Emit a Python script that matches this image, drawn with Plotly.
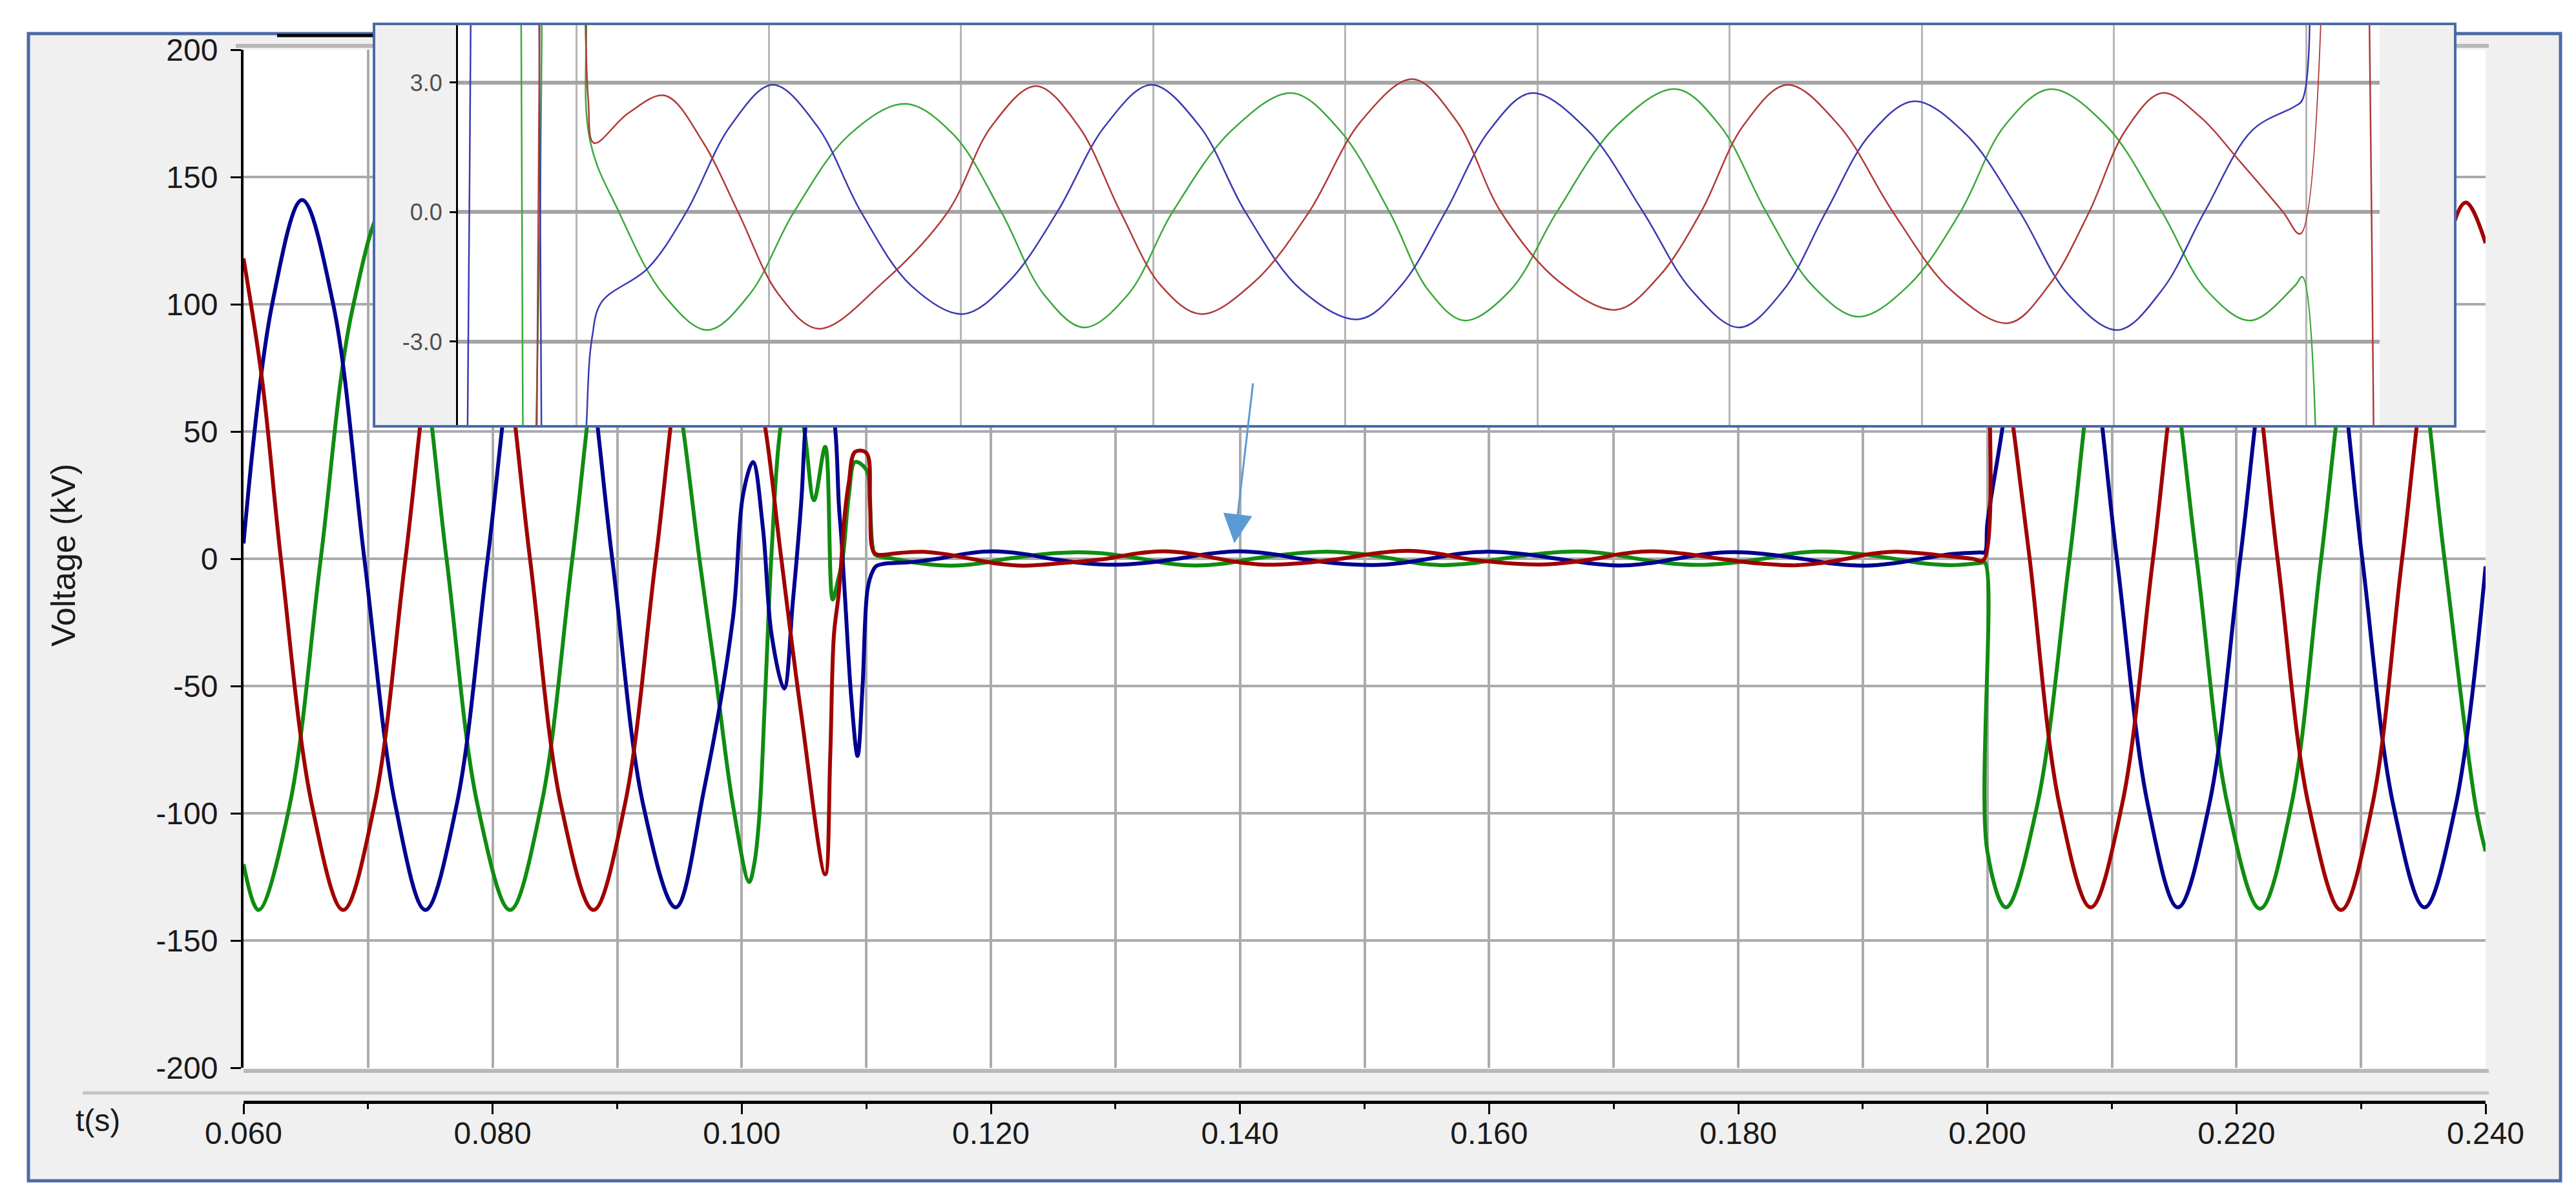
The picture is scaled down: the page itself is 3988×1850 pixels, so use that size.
"""
Three-phase line voltage during a fault, dead time and reclose,
with a zoomed inset of the residual voltage while the breaker is open.
"""

import plotly.graph_objects as go

W, H = 3988, 1850

# phase A (red): time in s, voltage in kV
t_red = [0.0600, 0.0615, 0.0630, 0.0655, 0.0680, 0.0705, 0.0730, 0.0755, 0.0780, 0.0805,
         0.0830, 0.0855, 0.0881, 0.0906, 0.0931, 0.0956, 0.0980, 0.1000, 0.1019, 0.1031,
         0.1048, 0.1067, 0.1071, 0.1074, 0.1078, 0.1083, 0.1086, 0.1091, 0.1100, 0.1103,
         0.1104, 0.1106, 0.1109, 0.1127, 0.1146, 0.1166, 0.1184, 0.1205, 0.1226, 0.1260,
         0.1293, 0.1316, 0.1339, 0.1361, 0.1383, 0.1404, 0.1425, 0.1453, 0.1481, 0.1508,
         0.1535, 0.1558, 0.1581, 0.1611, 0.1641, 0.1663, 0.1685, 0.1707, 0.1730, 0.1757,
         0.1785, 0.1815, 0.1845, 0.1866, 0.1887, 0.1906, 0.1925, 0.1945, 0.1965, 0.1988,
         0.1997, 0.2000, 0.2010, 0.2021, 0.2034, 0.2058, 0.2083, 0.2108, 0.2133, 0.2158,
         0.2183, 0.2208, 0.2233, 0.2258, 0.2284, 0.2309, 0.2333, 0.2358, 0.2384, 0.2400]
v_red = [118, 70, 0, -97, -138, -97, 0, 97, 138, 97,
         0, -97, -138, -97, 0, 97, 138, 100, 51, 3,
         -62, -124, -78, -30, -13, 19, 30, 42, 41.6, 23,
         6, 2.6, 1.6, 2.3, 2.7, 1.6, 0, -1.9, -2.7, -1.6,
         0, 2.0, 2.92, 2.0, 0, -1.7, -2.36, -1.6, 0, 2.1,
         3.08, 2.1, 0, -1.6, -2.26, -1.5, 0, 2.0, 2.95, 2.0,
         0, -1.8, -2.57, -1.7, 0, 1.9, 2.76, 2.2, 1.2, 0,
         -0.5, 121, 92, 51, 0, -97, -137, -97, 0, 97,
         138, 97, 0, -97, -138, -97, 0, 97, 140, 124]

# phase B (blue)
t_blue = [0.0600, 0.0623, 0.0647, 0.0672, 0.0697, 0.0722, 0.0746, 0.0771, 0.0796, 0.0821,
          0.0846, 0.0871, 0.0896, 0.0921, 0.0947, 0.0970, 0.0993, 0.1001, 0.1009, 0.1017,
          0.1024, 0.1034, 0.1041, 0.1048, 0.1051, 0.1057, 0.1063, 0.1069, 0.1075, 0.1078,
          0.1080, 0.1083, 0.1088, 0.1093, 0.1097, 0.1101, 0.1105, 0.1108, 0.1113, 0.1137,
          0.1157, 0.1180, 0.1202, 0.1225, 0.1248, 0.1274, 0.1301, 0.1325, 0.1350, 0.1375,
          0.1399, 0.1424, 0.1448, 0.1477, 0.1507, 0.1529, 0.1552, 0.1575, 0.1597, 0.1626,
          0.1655, 0.1680, 0.1705, 0.1728, 0.1750, 0.1773, 0.1796, 0.1823, 0.1851, 0.1876,
          0.1902, 0.1925, 0.1947, 0.1972, 0.1994, 0.1998, 0.2000, 0.2012, 0.2030, 0.2054,
          0.2079, 0.2104, 0.2129, 0.2153, 0.2178, 0.2203, 0.2228, 0.2252, 0.2277, 0.2301,
          0.2326, 0.2351, 0.2376, 0.2400]
v_blue = [6, 100, 141, 100, 0, -97, -138, -97, 0, 97,
          138, 97, 0, -97, -137, -90, -23, 25, 38, 12,
          -30, -51, -17, 24, 51, 78, 85, 70, 51, 21,
          8, -16, -55, -77.5, -50, -12, -5, -2.9, -2.08, -1.3,
          0, 2.0, 2.95, 2.0, 0, -1.7, -2.36, -1.6, 0, 2.0,
          2.95, 2.0, 0, -1.8, -2.48, -1.7, 0, 1.9, 2.76, 1.9,
          0, -1.8, -2.67, -1.8, 0, 1.8, 2.57, 1.8, 0, -1.9,
          -2.73, -1.8, 0, 1.9, 2.45, 2.6, 14, 51, 115, 138,
          97, 0, -97, -137, -97, 0, 97, 138, 97, 0,
          -97, -137, -97, -3]

# phase C (green)
t_green = [0.0600, 0.0612, 0.0637, 0.0662, 0.0687, 0.0713, 0.0738, 0.0763, 0.0788, 0.0814,
           0.0839, 0.0864, 0.0889, 0.0914, 0.0939, 0.0953, 0.0966, 0.0979, 0.0993, 0.1006,
           0.1010, 0.1014, 0.1019, 0.1024, 0.1031, 0.1040, 0.1050, 0.1058, 0.1067, 0.1073,
           0.1077, 0.1081, 0.1086, 0.1091, 0.1100, 0.1103, 0.1105, 0.1107, 0.1122, 0.1145,
           0.1168, 0.1190, 0.1213, 0.1242, 0.1271, 0.1296, 0.1321, 0.1343, 0.1364, 0.1387,
           0.1410, 0.1441, 0.1472, 0.1497, 0.1523, 0.1543, 0.1562, 0.1586, 0.1610, 0.1641,
           0.1672, 0.1695, 0.1719, 0.1743, 0.1767, 0.1793, 0.1820, 0.1843, 0.1867, 0.1896,
           0.1925, 0.1948, 0.1971, 0.1994, 0.1998, 0.2000, 0.2015, 0.2040, 0.2066, 0.2091,
           0.2117, 0.2142, 0.2168, 0.2193, 0.2219, 0.2244, 0.2268, 0.2293, 0.2317, 0.2342,
           0.2367, 0.2392, 0.2400]
v_green = [-120, -138, -97, 0, 97, 138, 97, 0, -97, -138,
           -97, 0, 97, 138, 97, 51, 0, -46, -97, -127,
           -120, -102, -51, 3, 51, 72, 51, 23, 44, -16,
           -9, 0, 25, 38, 35, 20, 5, 1.64, 0, -1.9,
           -2.73, -1.9, 0, 1.8, 2.51, 1.8, 0, -1.9, -2.67, -1.9,
           0, 1.9, 2.76, 1.9, 0, -1.8, -2.51, -1.8, 0, 2.0,
           2.85, 2.0, 0, -1.7, -2.42, -1.7, 0, 2.0, 2.85, 2.0,
           0, -1.8, -2.51, -1.71, -1.5, -115, -137, -97, 0, 97,
           138, 97, 0, -97, -137.5, -97, 0, 97, 138, 97,
           0, -97, -115]

x_ticks = [0.06, 0.08, 0.10, 0.12, 0.14, 0.16, 0.18, 0.20, 0.22, 0.24]
x_labels = ["0.060", "0.080", "0.100", "0.120", "0.140", "0.160", "0.180", "0.200", "0.220", "0.240"]
y_ticks = [-200, -150, -100, -50, 0, 50, 100, 150, 200]
y_labels = ["-200", "-150", "-100", "-50", "0", "50", "100", "150", "200"]
inset_ticks = [-3, 0, 3]
inset_labels = ["-3.0", "0.0", "3.0"]

FONT = "Arial, Liberation Sans, sans-serif"
FRAME = "#4a6aa8"
PANEL = "#f0f0f0"
GRID = "#ababab"


def px(x):
    return x / W


def py(y):
    return 1 - y / H


phases = [
    (t_green, v_green, "#108c10", "#3aa83a"),
    (t_blue, v_blue, "#000090", "#3a3ab0"),
    (t_red, v_red, "#a00000", "#b03a3a"),
]

fig = go.Figure()
for t, v, main_col, _ in phases:
    fig.add_trace(go.Scatter(x=t, y=v, mode="lines", line=dict(color=main_col, width=6, shape="spline"),
                             xaxis="x", yaxis="y", hoverinfo="skip"))

# empty trace so the inset frame subplot exists and sits above the main traces
fig.add_trace(go.Scatter(x=[], y=[], xaxis="x2", yaxis="y2"))

for t, v, _, inset_col in phases:
    fig.add_trace(go.Scatter(x=t, y=v, mode="lines", line=dict(color=inset_col, width=2.5, shape="spline"),
                             xaxis="x3", yaxis="y3", hoverinfo="skip"))

fig.update_layout(
    width=W, height=H, template="none", showlegend=False,
    margin=dict(l=0, r=0, t=0, b=0),
    paper_bgcolor="white", plot_bgcolor="white",
    font=dict(family=FONT, size=48, color="#1a1a1a"),
    xaxis=dict(
        domain=[px(369), px(3840)], range=[0.06, 0.24], anchor="free", position=py(1698),
        tickvals=x_ticks, ticktext=x_labels, ticks="outside", ticklen=16, tickwidth=3, tickcolor="black",
        showline=True, linecolor="black", linewidth=5, showgrid=True, gridcolor=GRID, gridwidth=4,
        minor=dict(dtick=0.01, tick0=0.06, ticks="outside", ticklen=8, tickwidth=3, tickcolor="black",
                   showgrid=True, gridcolor=GRID, gridwidth=4),
        zeroline=False, automargin=False, tickfont=dict(size=48), ticklabelstandoff=-12,
    ),
    yaxis=dict(
        domain=[py(1645), py(69)], range=[-200, 200], tickvals=y_ticks, ticktext=y_labels, anchor="x",
        ticks="outside", ticklen=16, tickwidth=3, tickcolor="black",
        showline=True, linecolor="black", linewidth=4, showgrid=True, gridcolor=GRID, gridwidth=4,
        zeroline=False, automargin=False, tickfont=dict(size=48), ticklabelstandoff=10,
    ),
    xaxis2=dict(domain=[px(569), px(3795)], range=[0, 1], visible=False, anchor="y2"),
    yaxis2=dict(domain=[py(654), py(27)], range=[0, 1], visible=False, anchor="x2"),
    xaxis3=dict(
        domain=[px(701), px(3676)], range=[0.10382, 0.20382], anchor="y3",
        tick0=0.11, dtick=0.01, showticklabels=False, ticks="",
        showgrid=True, gridcolor="#b5b5b5", gridwidth=3, zeroline=False, showline=False, automargin=False,
    ),
    yaxis3=dict(
        domain=[py(650), py(31)], range=[-4.93, 4.33], anchor="x3",
        tickvals=inset_ticks, ticktext=inset_labels, ticks="outside", ticklen=10, tickwidth=3, tickcolor="black",
        showline=True, linecolor="black", linewidth=3, showgrid=True, gridcolor="#a5a5a5", gridwidth=6,
        zeroline=False, automargin=False, tickfont=dict(size=36, color="#505050"), ticklabelstandoff=4,
    ),
    shapes=[
        # outer window frame and the white main plotting area
        dict(type="rect", xref="paper", yref="paper", x0=px(36), x1=px(3956), y0=py(1820), y1=py(44),
             fillcolor=PANEL, line=dict(color=FRAME, width=5), layer="below"),
        dict(type="rect", xref="paper", yref="paper", x0=px(369), x1=px(3840), y0=py(1645), y1=py(69),
             fillcolor="white", line=dict(width=0), layer="below"),
        dict(type="line", xref="paper", yref="paper", x0=px(357), x1=px(3845), y0=py(63), y1=py(63),
             line=dict(color="#b8b8b8", width=6), layer="below"),
        dict(type="line", xref="paper", yref="paper", x0=px(421), x1=px(569), y0=py(47), y1=py(47),
             line=dict(color="black", width=5), layer="below"),
        dict(type="line", xref="paper", yref="paper", x0=px(369), x1=px(3845), y0=py(1650), y1=py(1650),
             line=dict(color="#b8b8b8", width=6), layer="below"),
        dict(type="line", xref="paper", yref="paper", x0=px(120), x1=px(3845), y0=py(1684), y1=py(1684),
             line=dict(color="#c4c4c4", width=5), layer="below"),
        # inset panel, drawn inside its own subplot so it hides the main traces
        dict(type="rect", xref="x2", yref="y2", x0=0, x1=1, y0=0, y1=1,
             fillcolor=PANEL, line=dict(color=FRAME, width=8), layer="below"),
    ],
    annotations=[
        dict(text="Voltage (kV)", xref="paper", yref="paper", x=px(90), y=py(852), showarrow=False,
             textangle=-90, font=dict(size=52, color="#1a1a1a"), xanchor="center", yanchor="middle"),
        dict(text="t(s)", xref="paper", yref="paper", x=px(143), y=py(1726), showarrow=False,
             font=dict(size=48, color="#1a1a1a"), xanchor="center", yanchor="middle"),
        dict(text="", xref="paper", yref="paper", x=px(1903), y=py(833), ax=29, ay=-249,
             showarrow=True, arrowhead=2, arrowsize=3, arrowwidth=3, arrowcolor="#5b9bd5"),
    ],
)

fig.write_html("out.html")
